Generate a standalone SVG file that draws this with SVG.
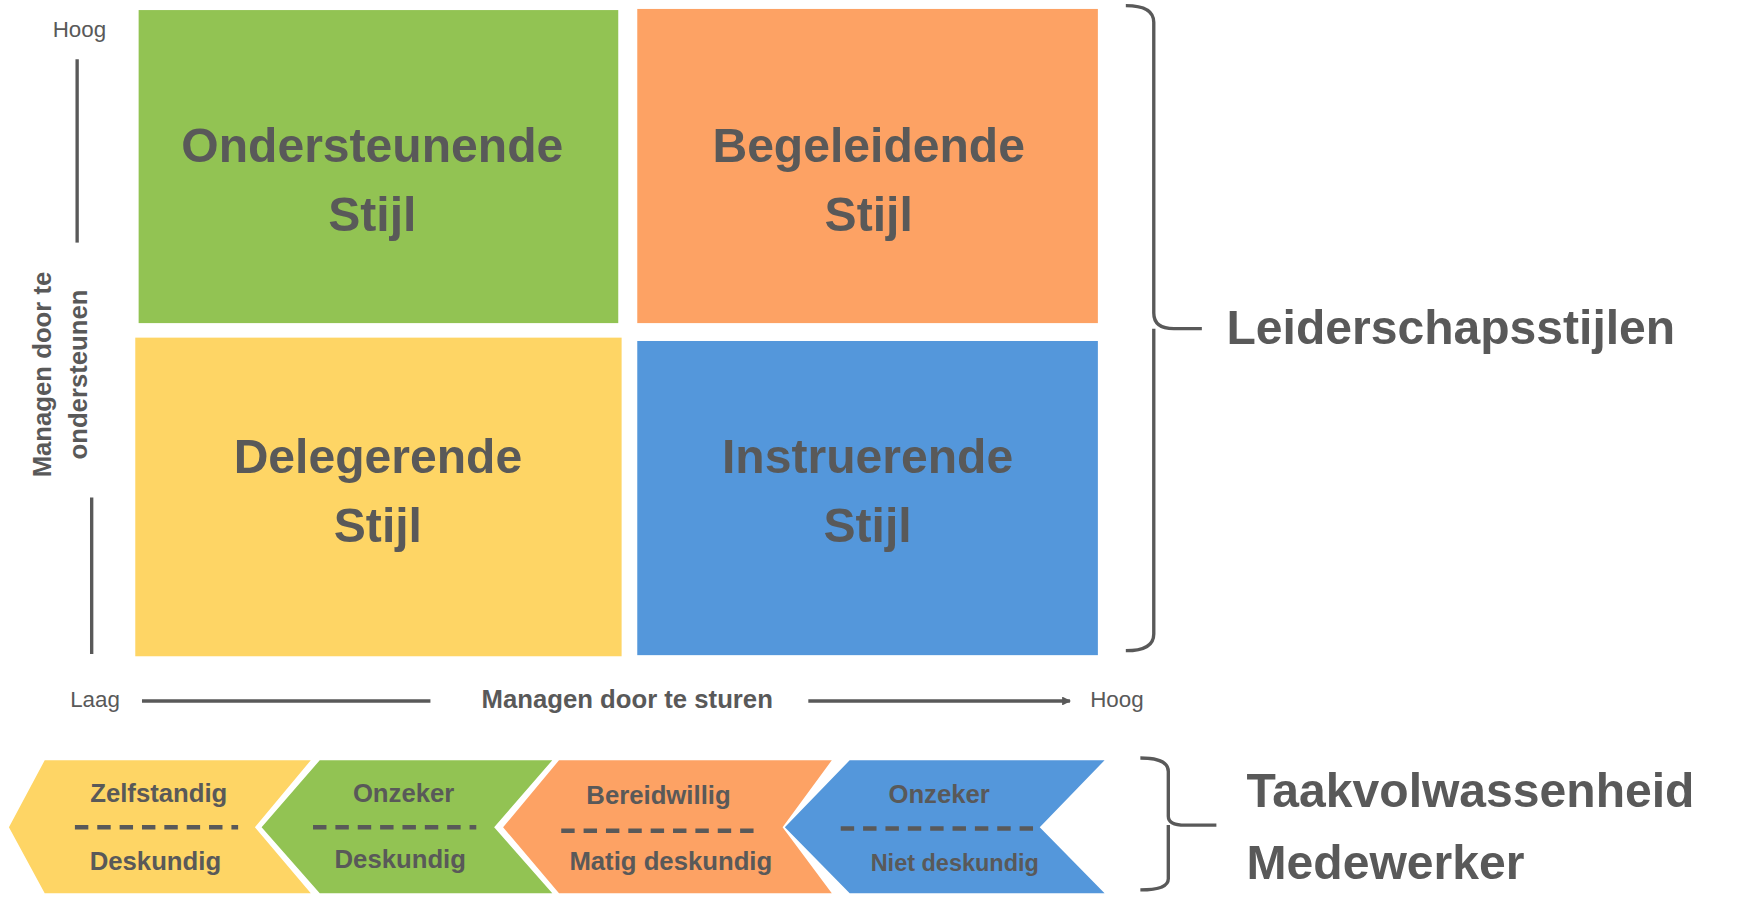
<svg xmlns="http://www.w3.org/2000/svg" width="1744" height="924" viewBox="0 0 1744 924">
<style>
text{font-family:"Liberation Sans",Arial,sans-serif;fill:#595959;text-anchor:middle}
.q{font-size:43px;font-weight:bold}
.c{font-size:23px;font-weight:bold}
.s{font-size:20px}
.ln{stroke:#595959;stroke-width:3;fill:none}
.d{stroke:#595959;stroke-width:4;stroke-dasharray:12 8}
</style>
<defs><marker id="ah" markerWidth="8" markerHeight="8" refX="7" refY="4" orient="auto" markerUnits="userSpaceOnUse"><path d="M0,0L8,4L0,8z" fill="#595959"/></marker></defs>
<rect width="1744" height="924" fill="#fff"/>
<g transform="scale(1.118)">
<g id="q1"><rect x="124" y="9" width="429" height="280" fill="#92c353"/><text class="q" x="333" y="145">Ondersteunende</text><text class="q" x="333" y="207">Stijl</text></g>
<g id="q2"><rect x="570" y="8" width="412" height="281" fill="#fda264"/><text class="q" x="777" y="145">Begeleidende</text><text class="q" x="777" y="207">Stijl</text></g>
<g id="q3"><rect x="121" y="302" width="435" height="285" fill="#fed565"/><text class="q" x="338" y="423">Delegerende</text><text class="q" x="338" y="485">Stijl</text></g>
<g id="q4"><rect x="570" y="305" width="412" height="281" fill="#5497db"/><text class="q" x="776" y="423">Instruerende</text><text class="q" x="776" y="485">Stijl</text></g>
<g id="axes">
<text class="s" x="71" y="33">Hoog</text>
<line class="ln" x1="69" y1="53" x2="69" y2="217"/>
<line class="ln" x1="82" y1="445" x2="82" y2="585"/>
<text class="c" transform="translate(46,335) rotate(-90)">Managen door te</text>
<text class="c" transform="translate(78,335) rotate(-90)">ondersteunen</text>
<text class="s" x="85" y="632">Laag</text>
<line class="ln" x1="127" y1="627" x2="385" y2="627"/>
<text class="c" x="561" y="633">Managen door te sturen</text>
<line class="ln" x1="723" y1="627" x2="957" y2="627" marker-end="url(#ah)"/>
<text class="s" x="999" y="632">Hoog</text>
<path class="ln" d="M1007,5 Q1032,5 1032,20 V280 Q1032,294 1050,294 H1075 M1032,294 V567 Q1032,582 1007,582"/>
<text class="q" x="1097" y="308" style="text-anchor:start">Leiderschapsstijlen</text>
</g>
<g id="c1"><path d="M40,680H278L228,740L278,799H40L8,740z" fill="#fed565"/><line class="d" x1="67" y1="740" x2="213" y2="740"/><text class="c" x="142" y="717">Zelfstandig</text><text class="c" x="139" y="778">Deskundig</text></g>
<g id="c2"><path d="M286,680H494L442,740L494,799H286L234,740z" fill="#92c353"/><line class="d" x1="280" y1="740" x2="426" y2="740"/><text class="c" x="361" y="717">Onzeker</text><text class="c" x="358" y="776">Deskundig</text></g>
<g id="c3"><path d="M500,680H744L700,740L744,799H500L450,740z" fill="#fda264"/><line class="d" x1="502" y1="743" x2="674" y2="743"/><text class="c" x="589" y="719">Bereidwillig</text><text class="c" x="600" y="778">Matig deskundig</text></g>
<g id="c4"><path d="M760,680H988L930,740L988,799H760L702,740z" fill="#5497db"/><line class="d" x1="752" y1="741" x2="924" y2="741"/><text class="c" x="840" y="718">Onzeker</text><text class="c" x="854" y="779" style="font-size:21px">Niet deskundig</text></g>
<g id="bracket2">
<path class="ln" d="M1020,678 Q1045,678 1045,690 V730 Q1045,738 1060,738 H1088 M1045,738 V786 Q1045,796 1020,796"/>
<text class="q" x="1115" y="722" style="text-anchor:start">Taakvolwassenheid</text>
<text class="q" x="1115" y="786" style="text-anchor:start">Medewerker</text>
</g>
</g>
</svg>
